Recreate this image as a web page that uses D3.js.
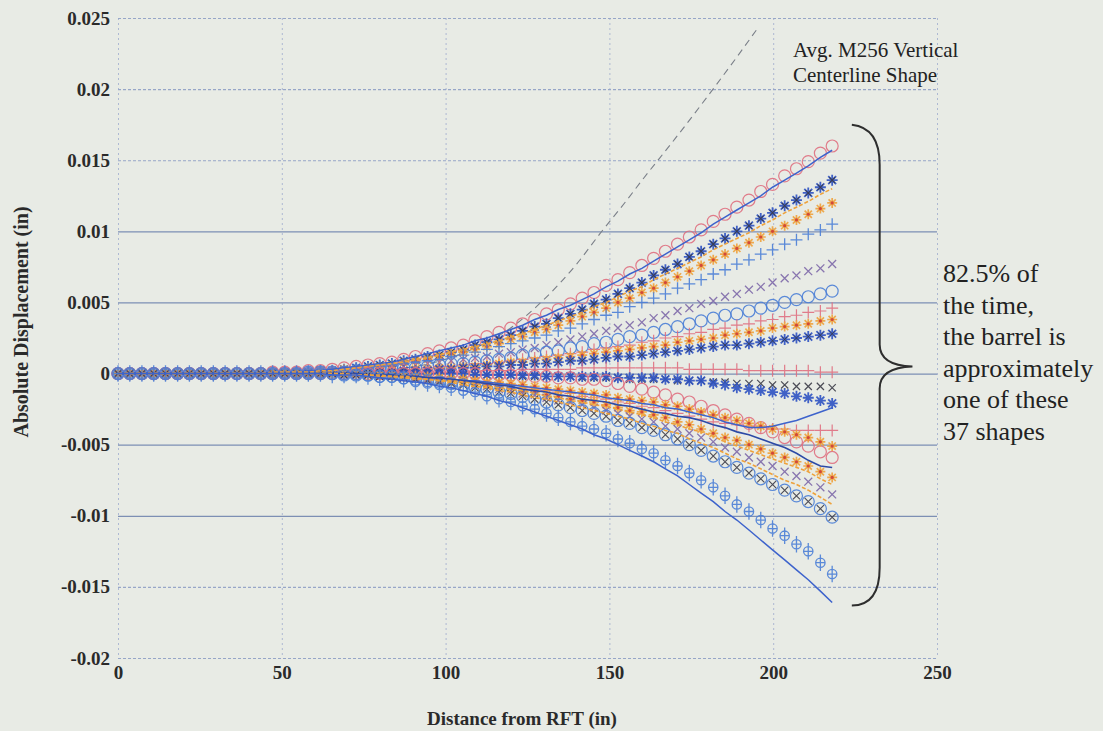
<!DOCTYPE html>
<html>
<head>
<meta charset="utf-8">
<script src="https://cdn.jsdelivr.net/npm/d3@7"></script>
<style>
  body { margin: 0; background: #e8ebe5; }
  svg { display: block; }
  .tick text { font-family: "Liberation Serif", serif; font-weight: bold; font-size: 19px; fill: #2a2a2a; }
</style>
</head>
<body>
<script>
// marker positions along the barrel (in)
const xs = [0,3.6,7.3,10.9,14.5,18.2,21.8,25.4,29.1,32.7,36.3,40.0,43.6,47.2,50.9,54.5,58.1,61.8,65.4,69.0,
  72.7,76.3,79.9,83.6,87.2,90.8,94.5,98.1,101.7,105.4,109.0,112.6,116.3,119.9,123.5,127.2,130.8,134.4,138.1,141.7,
  145.3,149.0,152.6,156.2,159.9,163.5,167.1,170.8,174.4,178.0,181.7,185.3,188.9,192.6,196.2,199.8,203.5,207.1,210.7,214.4,218.0];

// displacement of each shape, in units of 0.0001 in
const posRedCircle = [0,0,0,0,0,0,0,0,0,0,0, 0,0,1,1,1,2,2,3,4,5,6,7,8,10,12,14,16,18,20,23,26,29,32,35,38,42,45,49,53,57,62,66,71,76,81,86,91,96,101,107,112,117,122,128,133,139,144,149,155,160];
const topBlueLine = [0,0,0,0,0,0,0,0,0,0,0, 0,0,1,1,1,2,2,3,4,5,6,7,8,10,12,14,16,18,20,23,25,28,31,34,38,41,45,48,52,56,61,65,70,74,79,84,89,94,99,105,110,115,120,125,131,136,141,146,152,157];
const posBlueStar = [0,0,0,0,0,0,0,0,0,0,0, 0,0,1,1,1,1,2,2,3,4,5,6,7,9,10,12,13,15,17,20,22,24,27,30,33,35,39,42,45,49,52,56,60,64,69,73,77,82,86,91,95,100,104,109,113,118,122,127,131,136];
const orangeLineHigh = [0,0,0,0,0,0,0,0,0,0,0, 0,0,1,1,1,1,2,2,3,4,5,6,7,8,10,11,13,15,17,19,21,23,26,28,31,34,37,40,43,47,50,54,58,61,66,70,74,78,82,87,91,95,99,104,108,113,117,121,126,130];
const posOrangeStar = [0,0,0,0,0,0,0,0,0,0,0, 0,0,0,1,1,1,2,2,3,3,4,5,6,8,9,10,12,14,15,17,19,21,24,26,29,31,34,37,40,43,46,50,53,57,60,64,68,72,76,80,84,88,92,96,100,104,108,112,116,120];
const posBluePlus = [0,0,0,0,0,0,0,0,0,0,0, 0,0,0,1,1,1,1,2,2,3,4,5,6,7,8,9,10,12,13,15,17,19,21,23,25,27,30,32,35,38,41,43,47,50,53,56,60,63,66,70,73,77,80,84,87,91,94,98,101,105];
const posPurpleX = [0,0,0,0,0,0,0,0,0,0,0, 0,0,0,0,1,1,1,1,2,2,3,3,4,5,6,7,8,9,10,11,12,14,15,17,18,20,22,24,26,28,30,32,34,36,39,41,44,46,49,51,54,56,59,61,64,67,69,72,74,77];
const posBlueCircle = [0,0,0,0,0,0,0,0,0,0,0, 0,0,0,0,0,1,1,1,1,2,2,3,3,4,4,5,6,7,7,8,9,10,11,13,14,15,16,18,19,21,22,24,26,27,29,31,33,35,37,39,41,42,44,46,48,50,52,54,56,58];
const posRedPlus = [0,0,0,0,0,0,0,0,0,0,0, 0,0,0,0,0,0,1,1,1,1,2,2,2,3,3,4,5,5,6,7,7,8,9,10,11,12,13,14,15,17,18,19,20,22,23,25,26,28,29,31,32,34,35,37,38,40,41,43,44,46];
const posOrangeStarLow = [0,0,0,0,0,0,0,0,0,0,0, 0,0,0,0,0,0,1,1,1,1,1,2,2,2,3,3,4,4,5,5,6,7,8,8,9,10,11,12,13,14,15,16,17,18,19,20,22,23,24,25,27,28,29,30,32,33,34,35,37,38];
const posBlueStarLow = [0,0,0,0,0,0,0,0,0,0,0, 0,0,0,0,0,0,0,1,1,1,1,1,1,2,2,2,3,3,4,4,5,5,6,6,7,7,8,9,9,10,11,12,12,13,14,15,16,17,18,19,20,20,21,22,23,24,25,26,27,28];
const midRedPlus = [0,0,0,0,0,0,0,0,0,0,0, 0,0,0,0,0,0,0,0,0,0,1,1,1,1,1,1,1,1,1,1,2,2,2,3,3,3,3,3,4,4,4,4,4,4,4,4,4,3,3,3,3,3,2,2,2,2,2,2,1,1];
const midDarkX = [0,0,0,0,0,0,0,0,0,0,0, 0,0,0,0,0,0,0,0,0,0,0,0,0,0,0,0,-1,-1,-1,-1,-1,-1,-1,-2,-2,-2,-2,-2,-3,-3,-3,-3,-4,-4,-4,-4,-5,-5,-5,-6,-6,-7,-7,-7,-8,-8,-9,-9,-9,-10];
const midBlueStar = [0,0,0,0,0,0,0,0,0,0,0, 0,0,0,0,0,0,0,0,0,0,0,0,0,0,0,0,0,0,0,-1,-1,-1,-1,-1,-1,-2,-2,-2,-2,-2,-2,-3,-3,-3,-3,-4,-4,-5,-5,-7,-8,-10,-11,-12,-13,-14,-16,-17,-19,-21];
const blueLineS = [0,0,0,0,0,0,0,0,0,0,0, 0,0,0,0,0,0,0,0,0,0,-1,-1,-1,-2,-2,-3,-3,-4,-5,-5,-6,-7,-8,-9,-10,-11,-12,-13,-14,-15,-17,-18,-19,-21,-22,-24,-25,-27,-29,-31,-34,-36,-38,-38,-37,-35,-33,-30,-27,-24];
const negRedPlus = [0,0,0,0,0,0,0,0,0,0,0, 0,0,0,0,0,0,0,0,0,0,-1,-1,-1,-2,-2,-3,-3,-4,-5,-6,-7,-8,-8,-10,-11,-12,-13,-14,-16,-17,-18,-20,-21,-23,-24,-26,-28,-30,-32,-34,-35,-36,-37,-38,-39,-39,-40,-40,-40,-40];
const negRedCircle = [0,0,0,0,0,0,0,0,0,0,0, 0,0,0,0,0,0,0,0,0,0,0,0,0,0,0,0,0,0,0,0,-1,-1,-1,-2,-2,-2,-3,-3,-4,-4,-5,-7,-9,-11,-13,-15,-18,-20,-23,-26,-29,-32,-35,-38,-41,-45,-48,-51,-55,-59];
const negOrangeStar1 = [0,0,0,0,0,0,0,0,0,0,0, 0,0,0,0,0,0,0,0,0,0,-1,-1,-1,-2,-2,-2,-3,-4,-4,-5,-6,-6,-7,-8,-9,-10,-11,-12,-13,-14,-15,-17,-18,-19,-20,-22,-23,-25,-27,-29,-31,-33,-35,-37,-39,-41,-43,-45,-48,-51];
const darkBlueLine = [0,0,0,0,0,0,0,0,0,0,0, 0,0,0,0,0,0,0,0,0,0,-1,-1,-1,-2,-2,-3,-3,-4,-5,-6,-7,-8,-9,-11,-12,-13,-15,-16,-18,-19,-20,-22,-23,-25,-27,-28,-30,-31,-33,-36,-38,-41,-43,-46,-49,-52,-56,-61,-65,-66];
const negOrangeStar2 = [0,0,0,0,0,0,0,0,0,0,0, 0,0,0,0,0,0,0,0,0,-1,-1,-1,-2,-2,-3,-4,-4,-5,-6,-7,-8,-9,-10,-12,-13,-15,-16,-18,-19,-20,-22,-24,-26,-27,-29,-31,-34,-36,-39,-42,-45,-47,-50,-53,-56,-59,-62,-65,-69,-73];
const orangeLineMid = [0,0,0,0,0,0,0,0,0,0,0, 0,0,0,0,0,0,0,0,0,-1,-1,-1,-2,-2,-3,-4,-5,-5,-6,-7,-9,-10,-11,-12,-14,-16,-17,-19,-20,-22,-23,-25,-27,-29,-31,-34,-36,-39,-41,-44,-48,-51,-54,-57,-60,-63,-66,-69,-74,-78];
const negPurpleX = [0,0,0,0,0,0,0,0,0,0,0, 0,0,0,0,0,0,0,0,-1,-1,-1,-2,-2,-3,-3,-4,-5,-6,-7,-8,-9,-11,-12,-14,-15,-17,-19,-20,-22,-24,-26,-28,-30,-32,-34,-37,-39,-42,-45,-48,-52,-55,-59,-62,-65,-69,-72,-76,-80,-85];
const orangeLineLow = [0,0,0,0,0,0,0,0,0,0,0, 0,0,0,0,0,0,0,0,-1,-1,-1,-2,-2,-3,-4,-4,-5,-6,-8,-9,-10,-12,-13,-15,-17,-18,-20,-22,-24,-26,-28,-30,-32,-35,-37,-40,-42,-46,-49,-52,-56,-60,-63,-67,-71,-75,-78,-82,-87,-92];
const negBlueCircleX = [0,0,0,0,0,0,0,0,0,0,0, 0,0,0,0,0,0,0,0,-1,-1,-1,-2,-2,-3,-4,-5,-6,-7,-8,-10,-11,-13,-14,-16,-18,-20,-22,-24,-26,-28,-30,-33,-35,-38,-40,-43,-46,-50,-54,-58,-62,-66,-70,-74,-78,-82,-86,-90,-95,-101];
const negBluePhi = [0,0,0,0,0,0,0,0,0,0,0, 0,0,0,0,0,0,0,-1,-1,-1,-2,-3,-3,-4,-6,-7,-8,-10,-12,-13,-16,-18,-20,-23,-25,-28,-31,-34,-37,-39,-42,-46,-49,-53,-56,-61,-65,-70,-75,-80,-86,-92,-97,-103,-109,-114,-120,-125,-133,-141];
const bottomBlueLine = [0,0,0,0,0,0,0,0,0,0,0, 0,0,0,0,0,0,0,-1,-1,-1,-2,-3,-4,-5,-6,-7,-9,-10,-12,-14,-16,-19,-21,-24,-27,-30,-33,-36,-39,-43,-46,-50,-54,-58,-62,-67,-72,-78,-84,-90,-97,-103,-110,-117,-124,-131,-138,-145,-153,-161];

// average centerline shape (dashed)
const avgX = [70, 85, 100, 110, 118.6, 130, 140, 147, 155, 160, 170, 180, 190, 195];
const avgY = [0, 0.0003, 0.0010, 0.0019, 0.0030, 0.0052, 0.0077, 0.0098, 0.0121, 0.0136, 0.0165, 0.0195, 0.0226, 0.0242];

const xTicks = [0, 50, 100, 150, 200, 250];
const xTickLabels = ["0", "50", "100", "150", "200", "250"];
const yTicks = [0.025, 0.02, 0.015, 0.01, 0.005, 0, -0.005, -0.01, -0.015, -0.02];
const yTickLabels = ["0.025", "0.02", "0.015", "0.01", "0.005", "0", "-0.005", "-0.01", "-0.015", "-0.02"];

const noteLines = ["82.5% of", "the time,", "the barrel is", "approximately", "one of these", "37 shapes"];

// colours
const RED = "#df6f7f", BLUE = "#4a7ed6", DBLUE = "#2d52c2", ORANGE = "#eea23c",
      PURPLE = "#7d68a8", DARK = "#3a3a46", LINEBLUE = "#3d63cc";

const series = [
  {vals: posRedCircle, marks: [{k: "circle", c: RED, r: 6}]},
  {vals: posBlueStar, marks: [{k: "star", c: DBLUE, r: 5.5, w: 1.8}, {k: "x", c: DARK, r: 4, w: 1.1}]},
  {vals: posOrangeStar, marks: [{k: "star", c: ORANGE, r: 5, w: 1.7}, {k: "dot", c: "#d2483a", r: 1.6}]},
  {vals: posBluePlus, marks: [{k: "plus", c: BLUE, r: 6, w: 1.3}]},
  {vals: posPurpleX, marks: [{k: "x", c: PURPLE, r: 5.5, w: 1.3}]},
  {vals: posBlueCircle, marks: [{k: "circle", c: BLUE, r: 6}]},
  {vals: posRedPlus, marks: [{k: "plus", c: RED, r: 6, w: 1.2}]},
  {vals: posOrangeStarLow, marks: [{k: "star", c: ORANGE, r: 5, w: 1.7}, {k: "dot", c: "#d2483a", r: 1.6}]},
  {vals: posBlueStarLow, marks: [{k: "star", c: DBLUE, r: 5.5, w: 1.8}, {k: "x", c: DARK, r: 3.5, w: 1}]},
  {vals: midRedPlus, marks: [{k: "plus", c: RED, r: 6, w: 1.2}]},
  {vals: midDarkX, marks: [{k: "x", c: DARK, r: 5, w: 1.2}]},
  {vals: midBlueStar, marks: [{k: "star", c: DBLUE, r: 5.5, w: 1.8}]},
  {vals: negRedPlus, marks: [{k: "plus", c: RED, r: 6, w: 1.2}]},
  {vals: negRedCircle, marks: [{k: "circle", c: RED, r: 6}]},
  {vals: negOrangeStar1, marks: [{k: "star", c: ORANGE, r: 5, w: 1.7}, {k: "dot", c: "#d2483a", r: 1.6}]},
  {vals: negOrangeStar2, marks: [{k: "star", c: ORANGE, r: 5, w: 1.7}, {k: "dot", c: "#d2483a", r: 1.6}]},
  {vals: negPurpleX, marks: [{k: "x", c: PURPLE, r: 5.5, w: 1.3}]},
  {vals: negBlueCircleX, marks: [{k: "circle", c: BLUE, r: 6}, {k: "x", c: DARK, r: 5, w: 1.1}]},
  {vals: negBluePhi, marks: [{k: "phi", c: BLUE, r: 5.5, w: 1.3}]},
  {vals: topBlueLine, line: {c: LINEBLUE, w: 1.5}},
  {vals: orangeLineHigh, line: {c: ORANGE, w: 1.6, dash: "4,2"}},
  {vals: blueLineS, line: {c: LINEBLUE, w: 1.5}},
  {vals: darkBlueLine, line: {c: "#2c4aa6", w: 1.6}},
  {vals: orangeLineMid, line: {c: ORANGE, w: 1.6, dash: "4,2"}},
  {vals: orangeLineLow, line: {c: ORANGE, w: 1.6, dash: "4,2"}},
  {vals: bottomBlueLine, line: {c: LINEBLUE, w: 1.5}}
];

const W = 1103, H = 731;
const margin = {top: 18, right: 166, bottom: 73, left: 118},
    width = W - margin.left - margin.right,
    height = H - margin.top - margin.bottom;

const svg = d3.select("body").append("svg")
    .attr("width", W)
    .attr("height", H);

svg.append("rect").attr("width", W).attr("height", H).attr("fill", "#e8ebe5");

const g = svg.append("g")
    .attr("transform", "translate(" + margin.left + "," + margin.top + ")");

const x = d3.scaleLinear().domain([0, 250]).range([0, width]);
const y = d3.scaleLinear().domain([-0.02, 0.025]).range([height, 0]);

// grid
const strong = new Set([0.01, 0.005, 0, -0.005, -0.01]);
g.append("g")
    .call(d3.axisBottom(x).tickValues(xTicks).tickSize(height).tickFormat(""))
    .call(a => a.select(".domain").remove())
    .selectAll("line")
    .attr("stroke", "#adb8d2")
    .attr("stroke-dasharray", "2,3");

g.append("g")
    .call(d3.axisLeft(y).tickValues(yTicks).tickSize(-width).tickFormat(""))
    .call(a => a.select(".domain").remove())
    .selectAll("line")
    .attr("stroke", d => strong.has(d) ? "#7d8fb4" : "#97a6c8")
    .attr("stroke-width", d => strong.has(d) ? 1.3 : 1.1)
    .attr("stroke-dasharray", d => strong.has(d) ? null : "3,2");

// tick labels
g.append("g")
    .attr("transform", "translate(0," + height + ")")
    .call(d3.axisBottom(x).tickValues(xTicks).tickSize(0).tickPadding(8)
        .tickFormat((d, i) => xTickLabels[i]))
    .call(a => a.select(".domain").remove());

g.append("g")
    .call(d3.axisLeft(y).tickValues(yTicks).tickSize(0).tickPadding(8)
        .tickFormat((d, i) => yTickLabels[i]))
    .call(a => a.select(".domain").remove());

// average shape
g.append("path")
    .datum(avgX.map((v, i) => ({x: v, y: avgY[i]})))
    .attr("fill", "none")
    .attr("stroke", "#7a7f88")
    .attr("stroke-width", 1.1)
    .attr("stroke-dasharray", "7,5")
    .attr("d", d3.line().curve(d3.curveMonotoneX).x(d => x(d.x)).y(d => y(d.y)));

// marker shapes
const shapes = {
  circle: {draw(c, r) { c.moveTo(r, 0); c.arc(0, 0, r, 0, 2 * Math.PI); }},
  dot: {draw(c, r) { c.moveTo(r, 0); c.arc(0, 0, r, 0, 2 * Math.PI); }},
  plus: {draw(c, r) { c.moveTo(-r, 0); c.lineTo(r, 0); c.moveTo(0, -r); c.lineTo(0, r); }},
  x: {draw(c, r) { const k = r * 0.72; c.moveTo(-k, -k); c.lineTo(k, k); c.moveTo(-k, k); c.lineTo(k, -k); }},
  star: {draw(c, r) {
    const k = r * 0.72;
    c.moveTo(-r, 0); c.lineTo(r, 0); c.moveTo(0, -r); c.lineTo(0, r);
    c.moveTo(-k, -k); c.lineTo(k, k); c.moveTo(-k, k); c.lineTo(k, -k);
  }},
  phi: {draw(c, r) {
    const q = r * 0.85;
    c.moveTo(q, 0); c.arc(0, 0, q, 0, 2 * Math.PI);
    c.moveTo(0, -r * 1.5); c.lineTo(0, r * 1.5);
    c.moveTo(-q, 0); c.lineTo(q, 0);
  }}
};

const line = d3.line().x(d => x(d.x)).y(d => y(d.y));

series.forEach(s => {
  const pts = s.vals.map((v, i) => ({x: xs[i], y: v * 1e-4}));
  if (s.line) {
    g.append("path").datum(pts)
        .attr("fill", "none")
        .attr("stroke", s.line.c)
        .attr("stroke-width", s.line.w)
        .attr("stroke-dasharray", s.line.dash || null)
        .attr("d", line);
  }
  (s.marks || []).forEach(m => {
    g.append("g").selectAll("path")
        .data(pts)
        .join("path")
        .attr("transform", d => "translate(" + x(d.x) + "," + y(d.y) + ")")
        .attr("d", d3.symbol().type(shapes[m.k]).size(m.r))
        .attr("fill", m.k === "dot" ? m.c : "none")
        .attr("stroke", m.k === "dot" ? "none" : m.c)
        .attr("stroke-width", m.w || 1.2)
        .attr("stroke-opacity", 0.9);
  });
});

// brace
const bx0 = x(224), bx1 = x(232.5), bx2 = x(242.5);
const by0 = y(0.0175), byt = y(0.0005), by1 = y(-0.0163);
const bp = d3.path();
bp.moveTo(bx0, by0);
bp.quadraticCurveTo(bx1, by0 + 3, bx1, by0 + 40);
bp.lineTo(bx1, byt - 22);
bp.quadraticCurveTo(bx1, byt - 1, bx2, byt);
bp.quadraticCurveTo(bx1, byt + 1, bx1, byt + 22);
bp.lineTo(bx1, by1 - 38);
bp.quadraticCurveTo(bx1, by1, bx0, by1);
g.append("path").attr("d", bp.toString())
    .attr("fill", "none").attr("stroke", "#2e2e2e").attr("stroke-width", 2);

// annotations
const serif = "'Liberation Serif', 'Times New Roman', serif";
svg.append("text")
    .attr("x", 793).attr("y", 57)
    .style("font-family", serif).style("font-size", "21px").attr("fill", "#222")
    .text("Avg. M256 Vertical");
svg.append("text")
    .attr("x", 793).attr("y", 82)
    .style("font-family", serif).style("font-size", "21px").attr("fill", "#222")
    .text("Centerline Shape");

svg.append("g").selectAll("text")
    .data(noteLines)
    .join("text")
    .attr("x", 943)
    .attr("y", (d, i) => 282 + i * 31.6)
    .style("font-family", serif).style("font-size", "26px").attr("fill", "#222")
    .text(d => d);

// axis titles
svg.append("text")
    .attr("x", 522).attr("y", 725)
    .attr("text-anchor", "middle")
    .style("font-family", serif).style("font-size", "19px").style("font-weight", "bold")
    .attr("fill", "#2a2a2a")
    .text("Distance from RFT (in)");

svg.append("text")
    .attr("transform", "translate(28,322) rotate(-90)")
    .attr("text-anchor", "middle")
    .style("font-family", serif).style("font-size", "20px").style("font-weight", "bold")
    .attr("fill", "#2a2a2a")
    .text("Absolute Displacement (in)");
</script>
</body>
</html>
